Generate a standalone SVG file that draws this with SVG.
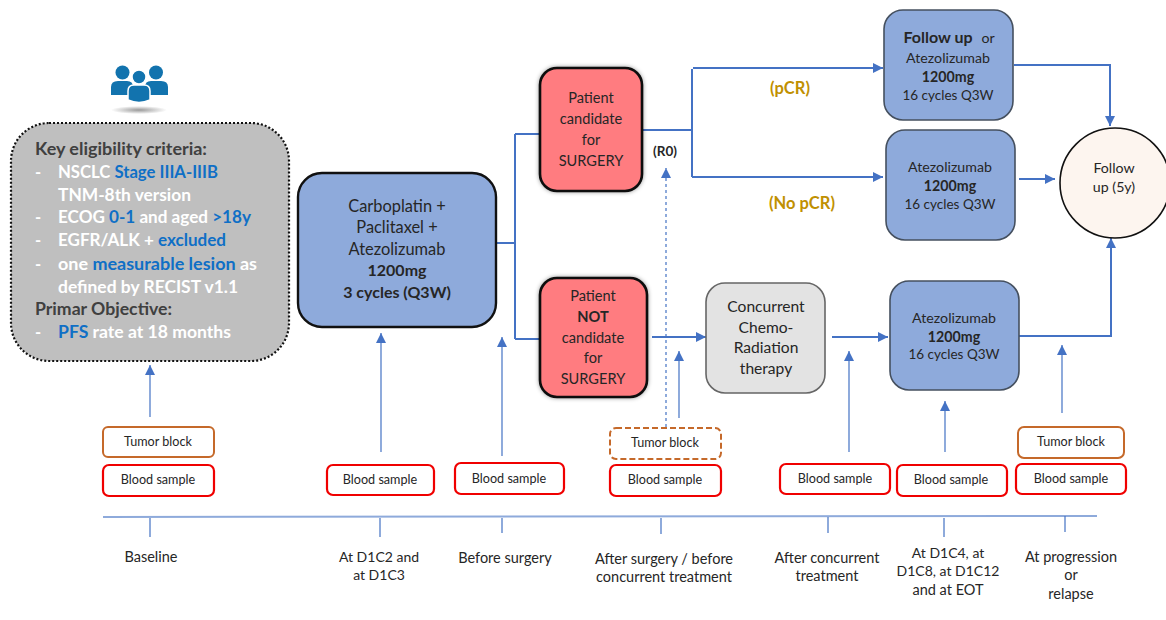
<svg xmlns="http://www.w3.org/2000/svg" width="1166" height="620" viewBox="0 0 1166 620">
<style>
text{font-family:Lato,"Open Sans",sans-serif;fill:#262626;text-anchor:middle}
.t12{font-size:12.6px}
.b{font-weight:700}
.lab{font-size:14.5px}
.lab2{font-size:14px}
.el{font-size:16.5px;font-weight:700;text-anchor:start;fill:#fff}
.h{fill:#404040}
.blue{fill:#0f6fc6}
.rb{fill:#fff;stroke:#f00000;stroke-width:2.2}
.ob{fill:#fff;stroke:#c5692a;stroke-width:2}
.med{fill:#8eaadb;stroke:#45505f;stroke-width:1.6}
.red{fill:#ff7c80;stroke:#0a0a0a;stroke-width:2.6}
.c{fill:none;stroke:#4472c4;stroke-width:2}
.thin{fill:none;stroke:#4472c4;stroke-width:1.2}
.gold{font-size:16.5px;font-weight:700;fill:#c09000}
.m{font-size:14.2px}
.p{font-size:14.6px}
</style>
<defs>
<marker id="a" markerUnits="userSpaceOnUse" markerWidth="12" markerHeight="12" refX="10" refY="5" orient="auto"><path d="M0 0L10 5L0 10Z" fill="#4472c4"/></marker>
<radialGradient id="sh"><stop offset="0" stop-color="#999"/><stop offset="1" stop-color="#fff"/></radialGradient>
<filter id="ds" x="-10%" y="-10%" width="120%" height="120%"><feDropShadow dx="0" dy="0" stdDeviation="2" flood-color="#000" flood-opacity=".4"/></filter>
</defs>
<g id="connectors">
<path class="c" d="M496 243H515M515 134V339M515 134H539M515 339H539"/>
<path class="c" d="M643 130H692M692 69V177"/>
<path class="c" marker-end="url(#a)" d="M693 68H883"/>
<path class="c" marker-end="url(#a)" d="M692 177H883"/>
<path class="c" marker-end="url(#a)" d="M652 337H706"/>
<path class="c" marker-end="url(#a)" d="M832 337H888"/>
<path class="c" marker-end="url(#a)" d="M1019 179H1055"/>
<path class="c" marker-end="url(#a)" d="M1014 65H1110V126"/>
<path class="c" marker-end="url(#a)" d="M1019 336H1111V238"/>
<path class="thin" marker-end="url(#a)" d="M150 417V365"/>
<path class="thin" marker-end="url(#a)" d="M381 452V333"/>
<path class="thin" marker-end="url(#a)" d="M502 456V337"/>
<path class="thin" marker-end="url(#a)" d="M679 418V351"/>
<path class="thin" marker-end="url(#a)" d="M849 452V351"/>
<path class="thin" marker-end="url(#a)" d="M945 452V401"/>
<path class="thin" marker-end="url(#a)" d="M1062 413V345"/>
<path class="thin" stroke-dasharray="3 3" marker-end="url(#a)" d="M666 427V168"/>
<path d="M103 517L1097 516" fill="none" stroke="#8eaadb" stroke-width="2"/>
<path class="thin" d="M150 518V537M380 518V537M502 518V533M661 518V534M828 517V533M944 518V537M1065 516V532"/>
</g>
<g id="icon">
<ellipse cx="139" cy="110" rx="28" ry="4" fill="url(#sh)"/>
<g fill="#1273ae">
<circle cx="122.500" cy="72.500" r="7"/><circle cx="156" cy="72.500" r="7"/>
<path d="M111 95V87Q111 81 118 81H127Q133 81 133 87V95Z"/>
<path d="M168 95V87Q168 81 161 81H151Q145 81 145 87V95Z"/>
<circle cx="139" cy="77" r="7" stroke="#fff" stroke-width="1.500"/>
<path d="M128 100V91Q128 85 134 85H144Q150 85 150 91V100Q139 105 128 100Z" stroke="#fff" stroke-width="1.500"/>
</g>
</g>
<g id="eligibility">
<rect x="11" y="123" width="278" height="238" rx="38" fill="#bfbfbf" stroke="#111" stroke-width="2.2" stroke-dasharray="2 2"/>
<text class="el h" x="35" y="155" textLength="172" lengthAdjust="spacingAndGlyphs">Key eligibility criteria:</text>
<text class="el" x="35" y="178">-</text><text class="el" x="58" y="178" textLength="160" lengthAdjust="spacingAndGlyphs">NSCLC <tspan class="blue">Stage IIIA-IIIB</tspan></text>
<text class="el" x="58" y="201" textLength="133" lengthAdjust="spacingAndGlyphs">TNM-8th version</text>
<text class="el" x="35" y="223">-</text><text class="el" x="58" y="223" textLength="193" lengthAdjust="spacingAndGlyphs">ECOG <tspan class="blue">0-1</tspan> and aged <tspan class="blue">&gt;18y</tspan></text>
<text class="el" x="35" y="246">-</text><text class="el" x="58" y="246" textLength="168" lengthAdjust="spacingAndGlyphs">EGFR/ALK + <tspan class="blue">excluded</tspan></text>
<text class="el" x="35" y="270">-</text><text class="el" x="58" y="270" textLength="199" lengthAdjust="spacingAndGlyphs">one <tspan class="blue">measurable lesion</tspan> as</text>
<text class="el" x="58" y="293" textLength="180" lengthAdjust="spacingAndGlyphs">defined by RECIST v1.1</text>
<text class="el h" x="35" y="315" textLength="137" lengthAdjust="spacingAndGlyphs">Primar Objective:</text>
<text class="el" x="35" y="338">-</text><text class="el" x="58" y="338" textLength="173" lengthAdjust="spacingAndGlyphs"><tspan class="blue">PFS</tspan> rate at 18 months</text>
</g>
<g id="chemo">
<rect x="298" y="173" width="198" height="154" rx="24" fill="#8eaadb" stroke="#111" stroke-width="2.4"/>
<text x="397" y="212" font-size="16.4">Carboplatin +</text>
<text x="397" y="233" font-size="16.4">Paclitaxel +</text>
<text x="397" y="255" font-size="16.4">Atezolizumab</text>
<text class="b" x="397" y="276" font-size="16">1200mg</text>
<text class="b" x="397" y="298" font-size="16">3 cycles (Q3W)</text>
</g>
<g id="surgery">
<rect x="540" y="68" width="102" height="123" rx="17" class="red" filter="url(#ds)"/>
<text class="p" x="591" y="103">Patient</text><text class="p" x="591" y="124">candidate</text><text class="p" x="591" y="145">for</text><text class="p" x="591" y="166">SURGERY</text>
</g>
<g id="r0"><text class="b" x="665" y="156" font-size="13.5">(R0)</text></g>
<g id="not-surgery">
<rect x="540" y="278" width="107" height="119" rx="17" class="red" filter="url(#ds)"/>
<text class="p" x="593" y="301">Patient</text><text class="p b" x="593" y="322">NOT</text><text class="p" x="593" y="343">candidate</text><text class="p" x="593" y="363">for</text><text class="p" x="593" y="384">SURGERY</text>
</g>
<g id="crt">
<rect x="706" y="283" width="119" height="110" rx="19" fill="#e3e3e3" stroke="#666" stroke-width="1.6"/>
<text x="766" y="312" font-size="15.6">Concurrent</text><text x="766" y="333" font-size="15.6">Chemo-</text><text x="766" y="353" font-size="15.6">Radiation</text><text x="766" y="374" font-size="15.6">therapy</text>
</g>
<g id="followup-or">
<rect x="884" y="10" width="129" height="110" rx="19" class="med"/>
<text class="b" font-size="16" x="938" y="43">Follow up</text><text class="m" x="988" y="43">or</text><text class="m" x="948" y="63">Atezolizumab</text><text class="b m" x="948" y="82">1200mg</text><text class="m" x="948" y="100" textLength="91" lengthAdjust="spacingAndGlyphs">16 cycles Q3W</text>
</g>
<g id="atezo-nopcr">
<rect x="886" y="130" width="129" height="110" rx="19" class="med"/>
<text class="m" x="950" y="172">Atezolizumab</text><text class="b m" x="950" y="191">1200mg</text><text class="m" x="950" y="209" textLength="91" lengthAdjust="spacingAndGlyphs">16 cycles Q3W</text>
</g>
<g id="atezo-crt">
<rect x="890" y="281" width="129" height="109" rx="19" class="med"/>
<text class="m" x="954" y="323">Atezolizumab</text><text class="b m" x="954" y="342">1200mg</text><text class="m" x="954" y="359" textLength="91" lengthAdjust="spacingAndGlyphs">16 cycles Q3W</text>
</g>
<g id="followup">
<circle cx="1115" cy="183" r="55" fill="#fdf5ef" stroke="#111" stroke-width="1.6"/>
<text class="m" x="1114" y="173">Follow</text><text class="m" x="1114" y="192">up (5y)</text>
</g>
<g id="labels-response">
<text class="gold" x="790" y="94">(pCR)</text>
<text class="gold" x="802" y="209">(No pCR)</text>
</g>
<g id="samples">
<rect class="ob" x="103" y="427" width="111" height="30" rx="5"/><text class="t12" x="158" y="446">Tumor block</text>
<rect class="rb" x="103" y="465" width="111" height="31" rx="6"/><text class="t12" x="158" y="484">Blood sample</text>
<rect class="rb" x="327" y="465" width="107" height="30" rx="6"/><text class="t12" x="380" y="484">Blood sample</text>
<rect class="rb" x="455" y="463" width="109" height="31" rx="6"/><text class="t12" x="509" y="483">Blood sample</text>
<rect class="ob" stroke-dasharray="6 3" stroke-width="2.200" x="610" y="428" width="111" height="31" rx="6"/><text class="t12" x="665" y="447">Tumor block</text>
<rect class="rb" x="610" y="465" width="111" height="31" rx="6"/><text class="t12" x="665" y="484">Blood sample</text>
<rect class="rb" x="780" y="464" width="110" height="30" rx="6"/><text class="t12" x="835" y="483">Blood sample</text>
<rect class="rb" x="897" y="465" width="110" height="31" rx="6"/><text class="t12" x="951" y="484">Blood sample</text>
<rect class="ob" x="1018" y="427" width="106" height="31" rx="6"/><text class="t12" x="1071" y="446">Tumor block</text>
<rect class="rb" x="1016" y="464" width="110" height="30" rx="6"/><text class="t12" x="1071" y="483">Blood sample</text>
</g>
<g id="timeline-labels">
<text class="lab" x="151" y="562">Baseline</text>
<text class="lab2" x="379" y="562">At D1C2 and</text><text class="lab2" x="379" y="580">at D1C3</text>
<text class="lab" x="505" y="563">Before surgery</text>
<text class="lab" x="664" y="564">After surgery / before</text><text class="lab" x="664" y="582">concurrent treatment</text>
<text class="lab" x="827" y="563">After concurrent</text><text class="lab" x="827" y="581">treatment</text>
<text class="lab2" x="948" y="558">At D1C4, at</text><text class="lab2" x="948" y="576">D1C8, at D1C12</text><text class="lab" x="948" y="595">and at EOT</text>
<text class="lab" x="1071" y="562">At progression</text><text class="lab" x="1071" y="580">or</text><text class="lab" x="1071" y="599">relapse</text>
</g>
</svg>
